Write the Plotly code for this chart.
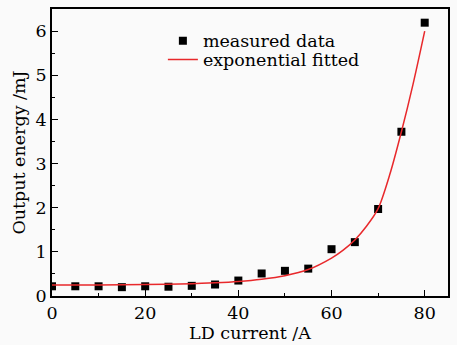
import plotly.graph_objects as go

current = [0, 5, 10, 15, 20, 25, 30, 35, 40, 45, 50, 55, 60, 65, 70, 75, 80]
energy = [0.22, 0.22, 0.22, 0.20, 0.22, 0.21, 0.23, 0.26, 0.35, 0.51, 0.57, 0.62, 1.06, 1.22, 1.97, 3.72, 6.19]

fit_x = [0, 10, 20, 30, 35, 40, 45, 50, 55, 60, 62.5, 65, 67.5, 70, 72.5, 75, 77.5, 80]
fit_y = [0.25, 0.25, 0.26, 0.28, 0.30, 0.33, 0.38, 0.46, 0.60, 0.86, 1.04, 1.27, 1.58, 1.98, 2.75, 3.72, 4.8, 6.0]

FONT = "DejaVu Serif"
FS = 17.5

fig = go.Figure()
fig.add_trace(go.Scatter(x=current, y=energy, mode="markers", name="measured data",
                         marker=dict(symbol="square", size=8, color="black"),
                         legend="legend", showlegend=True))
fig.add_trace(go.Scatter(x=fit_x, y=fit_y, mode="lines", name="exponential fitted",
                         line=dict(color="#e8282b", width=1.5, shape="spline", smoothing=0.8),
                         legend="legend2", showlegend=True))

axis_common = dict(showline=True, linecolor="black", linewidth=1.5, mirror=True,
                   ticks="inside", ticklen=6, tickwidth=1.2, tickcolor="black",
                   showgrid=False, zeroline=False,
                   tickfont=dict(family=FONT, size=FS, color="black"))

fig.update_xaxes(range=[0, 85], dtick=20, title=dict(text="LD current /A", font=dict(family=FONT, size=FS, color="black"), standoff=3),
                 minor=dict(ticks="inside", ticklen=3, dtick=10, tickcolor="black"), **axis_common)
fig.update_yaxes(range=[0, 6.5], dtick=1, title=dict(text="Output energy /mJ", font=dict(family=FONT, size=FS, color="black"), standoff=5),
                 minor=dict(ticks="inside", ticklen=3, dtick=0.5, tickcolor="black"), **axis_common)

leg = dict(xanchor="left", yanchor="top", bgcolor="rgba(0,0,0,0)",
           font=dict(family=FONT, size=FS, color="black"), itemwidth=30, visible=True)

fig.update_layout(
    width=457, height=345,
    margin=dict(l=52, r=8, t=7, b=46),
    paper_bgcolor="#fafafa", plot_bgcolor="#fafafa",
    font=dict(family=FONT, size=FS, color="black"),
    showlegend=True,
    legend=dict(x=0.28, y=0.952, **leg),
    legend2=dict(x=0.28, y=0.886, **leg),
)

fig.write_html("out.html")
